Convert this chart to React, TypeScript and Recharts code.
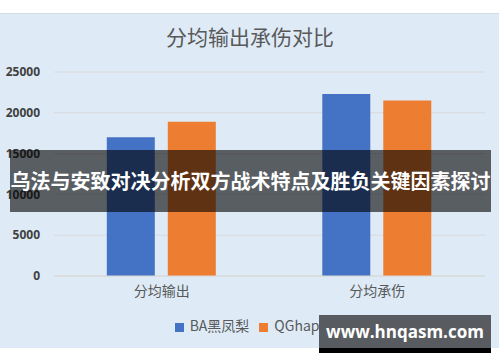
import { BarChart, Bar, XAxis, YAxis, CartesianGrid, Legend } from "recharts";

const categories = ["分均输出", "分均承伤"];
const baHeiFengLi = [17000, 22300];
const qgHappy = [18900, 21500];
const yTicks = [0, 5000, 10000, 15000, 20000, 25000];

const seriesNames = ["BA黑凤梨", "QGhappy"];
const seriesColors = ["#4472C4", "#ED7D31"];

const data = categories.map((name, i) => ({
  name,
  ba: baHeiFengLi[i],
  qg: qgHappy[i],
}));

const cjk = '"Noto Sans CJK SC", "Noto Sans", sans-serif';

export default function App() {
  return (
    <div
      style={{
        position: "absolute",
        left: 0,
        top: 0,
        width: 500,
        height: 362,
        background: "#fff",
        overflow: "hidden",
        fontFamily: cjk,
      }}
    >
      {/* chart panel */}
      <div
        style={{
          position: "absolute",
          left: 0,
          top: 13,
          width: 499,
          height: 334,
          background: "#DEEBF7",
          borderTop: "1px solid #D6DCE4",
        }}
      />
      <div
        style={{
          position: "absolute",
          left: 0,
          top: 21,
          width: 500,
          textAlign: "center",
          fontSize: 21,
          color: "#595959",
          lineHeight: "30px",
        }}
      >
        分均输出承伤对比
      </div>
      <div style={{ position: "absolute", left: 0, top: 0 }}>
        <BarChart
          width={500}
          height={362}
          data={data}
          margin={{ top: 72, right: 15, bottom: 36, left: 0 }}
          barGap={13}
          barCategoryGap="24.5%"
        >
          <CartesianGrid vertical={false} stroke="#D9D9D9" />
          <XAxis
            dataKey="name"
            height={30}
            tickLine={false}
            axisLine={{ stroke: "#D9D9D9" }}
            tick={{ fill: "#595959", fontSize: 14, fontFamily: cjk }}
            tickMargin={4}
          />
          <YAxis
            width={54}
            domain={[0, 25000]}
            ticks={yTicks}
            axisLine={false}
            tickLine={false}
            tick={{
              fill: "#404040",
              fontSize: 12,
              fontWeight: 700,
              fontFamily: '"Open Sans", sans-serif',
            }}
            tickMargin={8}
          />
          <Legend
            verticalAlign="bottom"
            iconType="square"
            iconSize={9}
            wrapperStyle={{
              position: "absolute",
              left: 10,
              top: 315,
              width: 500,
              fontSize: 14,
              fontFamily: cjk,
            }}
            formatter={(value) => (
              <span style={{ color: "#595959", marginLeft: 2 }}>{value}</span>
            )}
          />
          <Bar
            dataKey="ba"
            name={seriesNames[0]}
            fill={seriesColors[0]}
            isAnimationActive={false}
          />
          <Bar
            dataKey="qg"
            name={seriesNames[1]}
            fill={seriesColors[1]}
            isAnimationActive={false}
          />
        </BarChart>
      </div>
      {/* headline banner */}
      <div
        style={{
          position: "absolute",
          left: 10,
          top: 150,
          width: 481,
          height: 62,
          background: "rgba(0,0,0,0.6)",
          color: "#fff",
          fontWeight: 700,
          fontSize: 20,
          lineHeight: "62px",
          textAlign: "center",
          whiteSpace: "nowrap",
        }}
      >
        乌法与安致对决分析双方战术特点及胜负关键因素探讨
      </div>
      {/* site tag */}
      <div
        style={{
          position: "absolute",
          left: 319,
          top: 315,
          width: 172,
          height: 33,
          background: "#585C60",
          borderBottom: "5px solid #000",
          color: "#fff",
          fontWeight: 700,
          fontSize: 17,
          lineHeight: "33px",
          textAlign: "center",
          fontFamily: '"Open Sans", sans-serif',
        }}
      >
        www.hnqasm.com
      </div>
    </div>
  );
}
